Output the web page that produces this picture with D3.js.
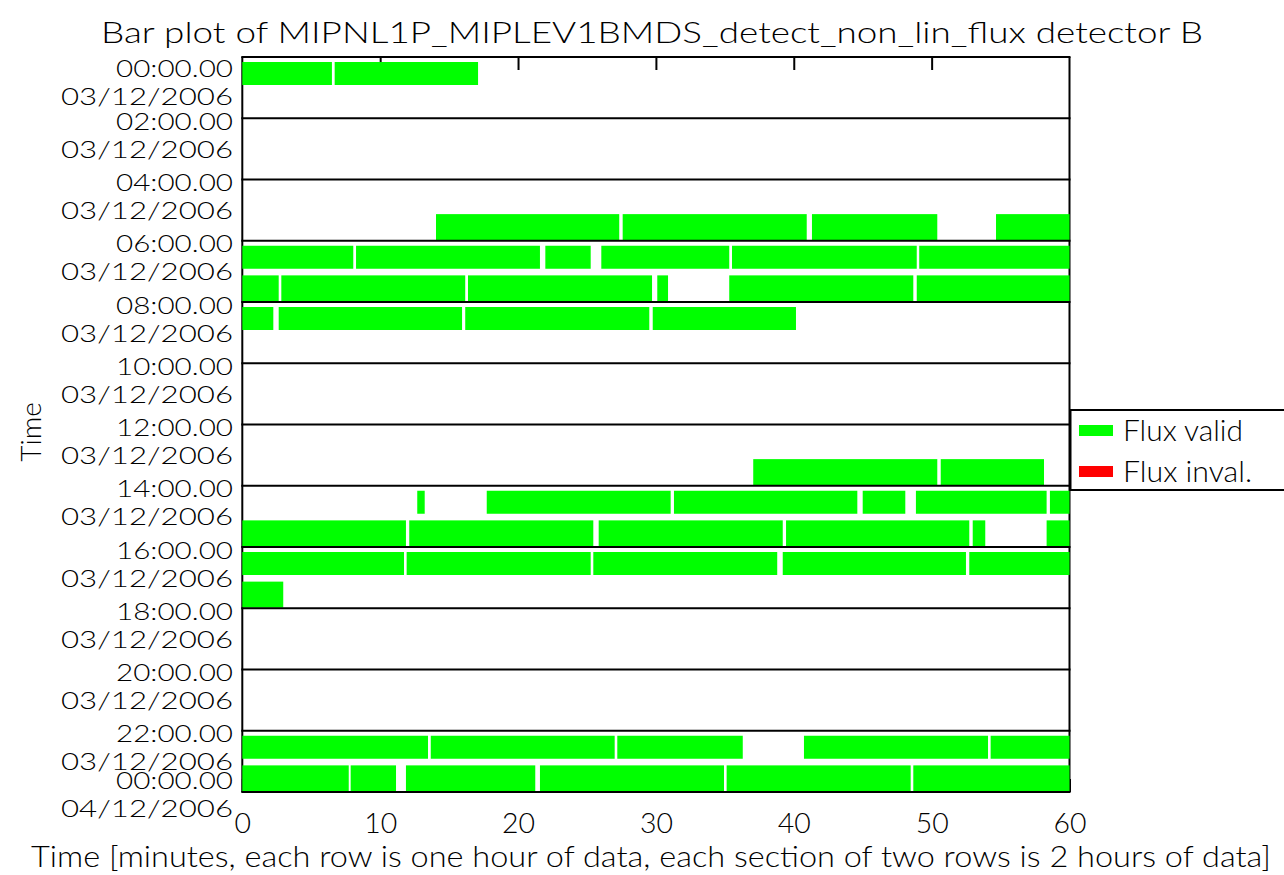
<!DOCTYPE html>
<html>
<head>
<meta charset="utf-8">
<script src="https://cdn.jsdelivr.net/npm/d3@7"></script>
<style>
  html, body { margin: 0; padding: 0; background: #fff; }
  svg { display: block; }
  text { font-family: Lato, "DejaVu Sans", sans-serif; font-weight: 300; fill: #000; }
</style>
</head>
<body>
<svg id="chart" width="1284" height="875"></svg>
<script>
// Valid-flux segments per hour of the day, [start minute, end minute]
const hour00 = [[0, 6.5], [6.7, 17.1]];
const hour05 = [[14.05, 27.34], [27.59, 40.94], [41.32, 50.41], [54.67, 60]];
const hour06 = [[0, 8.05], [8.25, 21.59], [21.98, 25.27], [26.04, 35.32], [35.52, 48.92], [49.10, 60]];
const hour07 = [[0, 2.64], [2.83, 16.17], [16.37, 29.72], [30.10, 30.88], [35.32, 48.67], [48.92, 60]];
const hour08 = [[0, 2.25], [2.64, 15.94], [16.17, 29.52], [29.77, 40.16]];
const hour13 = [[37.06, 50.41], [50.66, 58.15]];
const hour14 = [[12.69, 13.23], [17.73, 31.07], [31.31, 44.61], [45.00, 48.09], [48.86, 58.34], [58.58, 60]];
const hour15 = [[0, 11.87], [12.11, 25.46], [25.85, 39.20], [39.44, 52.73], [52.98, 53.89], [58.34, 60]];
const hour16 = [[0, 11.73], [11.92, 25.27], [25.46, 38.80], [39.20, 52.49], [52.73, 60]];
const hour17 = [[0, 2.97]];
const hour22 = [[0, 13.47], [13.67, 27.01], [27.20, 36.30], [40.74, 54.09], [54.28, 60]];
const hour23 = [[0, 7.72], [7.86, 11.15], [11.87, 21.25], [21.59, 34.94], [35.13, 48.48], [48.67, 60]];

// Invalid-flux segments (none in this period)
const invalidSegments = [];

// Section boundary labels (every 2 hours)
const timeLabels = ["00:00.00", "02:00.00", "04:00.00", "06:00.00", "08:00.00", "10:00.00",
  "12:00.00", "14:00.00", "16:00.00", "18:00.00", "20:00.00", "22:00.00", "00:00.00"];
const dateLabels = ["03/12/2006", "03/12/2006", "03/12/2006", "03/12/2006", "03/12/2006", "03/12/2006",
  "03/12/2006", "03/12/2006", "03/12/2006", "03/12/2006", "03/12/2006", "03/12/2006", "04/12/2006"];
const minuteTicks = [0, 10, 20, 30, 40, 50, 60];

const legendItems = ["Flux valid", "Flux inval."];
const legendColors = ["#00ff00", "#ff0000"];

const titleText = "Bar plot of MIPNL1P_MIPLEV1BMDS_detect_non_lin_flux detector B";
const xTitle = "Time [minutes, each row is one hour of data, each section of two rows is 2 hours of data]";
const yTitle = "Time";

const validRows = [
  [0, hour00], [5, hour05], [6, hour06], [7, hour07], [8, hour08], [13, hour13],
  [14, hour14], [15, hour15], [16, hour16], [17, hour17], [22, hour22], [23, hour23]
];

const svg = d3.select("#chart");

const plot = { left: 242.3, right: 1069.5, top: 57, bottom: 792 };
const x = d3.scaleLinear().domain([0, 60]).range([plot.left, plot.right]);
const y = d3.scaleLinear().domain([0, 24]).range([plot.top, plot.bottom]);

// vertical extent of a bar inside its hour row
function barTop(h) { return y(h) + (h % 2 === 0 ? 5 : 4); }
function barBottom(h) { return y(h) + (h % 2 === 0 ? 28 : 30); }

// ticks along the top and bottom edges (drawn under the bars)
svg.append("g")
  .attr("transform", `translate(0,${plot.top})`)
  .call(d3.axisBottom(x).tickValues(minuteTicks.slice(1, -1)).tickSize(13).tickSizeOuter(0).tickFormat(""))
  .call(g => g.select(".domain").remove())
  .call(g => g.selectAll("line").attr("stroke", "#000").attr("stroke-width", 2));

const bottomAxis = svg.append("g")
  .attr("transform", `translate(0,${plot.bottom})`)
  .call(d3.axisBottom(x).tickValues(minuteTicks).tickSize(-13).tickSizeOuter(0).tickPadding(21))
  .call(g => g.select(".domain").remove())
  .call(g => g.selectAll("line").attr("stroke", "#000").attr("stroke-width", 2));
bottomAxis.selectAll("text")
  .attr("font-family", "Lato, 'DejaVu Sans', sans-serif")
  .attr("font-weight", 300)
  .attr("font-size", 28)
  .attr("fill", "#000")
  .attr("textLength", d => String(d).length * 16.5)
  .attr("lengthAdjust", "spacingAndGlyphs");

// left and right edges
svg.append("line").attr("x1", plot.left).attr("x2", plot.left)
  .attr("y1", plot.top).attr("y2", plot.bottom).attr("stroke", "#000").attr("stroke-width", 2);
svg.append("line").attr("x1", plot.right).attr("x2", plot.right)
  .attr("y1", plot.top).attr("y2", plot.bottom).attr("stroke", "#000").attr("stroke-width", 2);

// bars
const barData = [];
validRows.forEach(([h, segs]) => segs.forEach(([s, e]) => barData.push({ h, s, e, c: legendColors[0] })));
invalidSegments.forEach(([h, s, e]) => barData.push({ h, s, e, c: legendColors[1] }));

svg.append("g").selectAll("rect").data(barData).join("rect")
  .attr("x", d => x(d.s))
  .attr("width", d => x(d.e) - x(d.s))
  .attr("y", d => barTop(d.h))
  .attr("height", d => barBottom(d.h) - barTop(d.h))
  .attr("fill", d => d.c);

// section separators every two hours
svg.append("g").selectAll("line").data(d3.range(0, 25, 2)).join("line")
  .attr("x1", plot.left - 1).attr("x2", plot.right + 1)
  .attr("y1", d => y(d)).attr("y2", d => y(d))
  .attr("stroke", "#000").attr("stroke-width", 2);

// section labels on the left
const labelRight = 233;
const labelG = svg.append("g");
timeLabels.forEach((t, i) => {
  const off = i === 0 ? 11 : (i === timeLabels.length - 1 ? -12 : 3);
  const cy = y(i * 2) + off;
  labelG.append("text")
    .attr("x", labelRight - 117).attr("y", cy + 8.5)
    .attr("font-size", 24)
    .attr("textLength", 117).attr("lengthAdjust", "spacingAndGlyphs")
    .text(t);
  labelG.append("text")
    .attr("x", labelRight - 172).attr("y", cy + 28 + 8.5)
    .attr("font-size", 24)
    .attr("textLength", 172).attr("lengthAdjust", "spacingAndGlyphs")
    .text(dateLabels[i]);
});

// title
svg.append("text")
  .attr("x", 101).attr("y", 43)
  .attr("font-size", 30)
  .attr("textLength", 1102).attr("lengthAdjust", "spacingAndGlyphs")
  .text(titleText);

// x axis title
svg.append("text")
  .attr("x", 31).attr("y", 867)
  .attr("font-size", 29)
  .attr("textLength", 1240).attr("lengthAdjust", "spacingAndGlyphs")
  .text(xTitle);

// y axis title
svg.append("text")
  .attr("transform", "translate(41,432) rotate(-90)")
  .attr("text-anchor", "middle")
  .attr("font-size", 28)
  .text(yTitle);

// legend
const legend = svg.append("g");
legend.append("rect")
  .attr("x", plot.right + 1).attr("y", 410)
  .attr("width", 240).attr("height", 80)
  .attr("fill", "#fff").attr("stroke", "#000").attr("stroke-width", 2);
const legendWidths = [120, 129];
legendItems.forEach((name, i) => {
  const cy = 431 + i * 41;
  legend.append("rect")
    .attr("x", 1079).attr("y", cy - 6)
    .attr("width", 34).attr("height", 11)
    .attr("fill", legendColors[i]);
  legend.append("text")
    .attr("x", 1123).attr("y", cy + 10)
    .attr("font-size", 29)
    .attr("textLength", legendWidths[i]).attr("lengthAdjust", "spacingAndGlyphs")
    .text(name);
});
</script>
</body>
</html>
